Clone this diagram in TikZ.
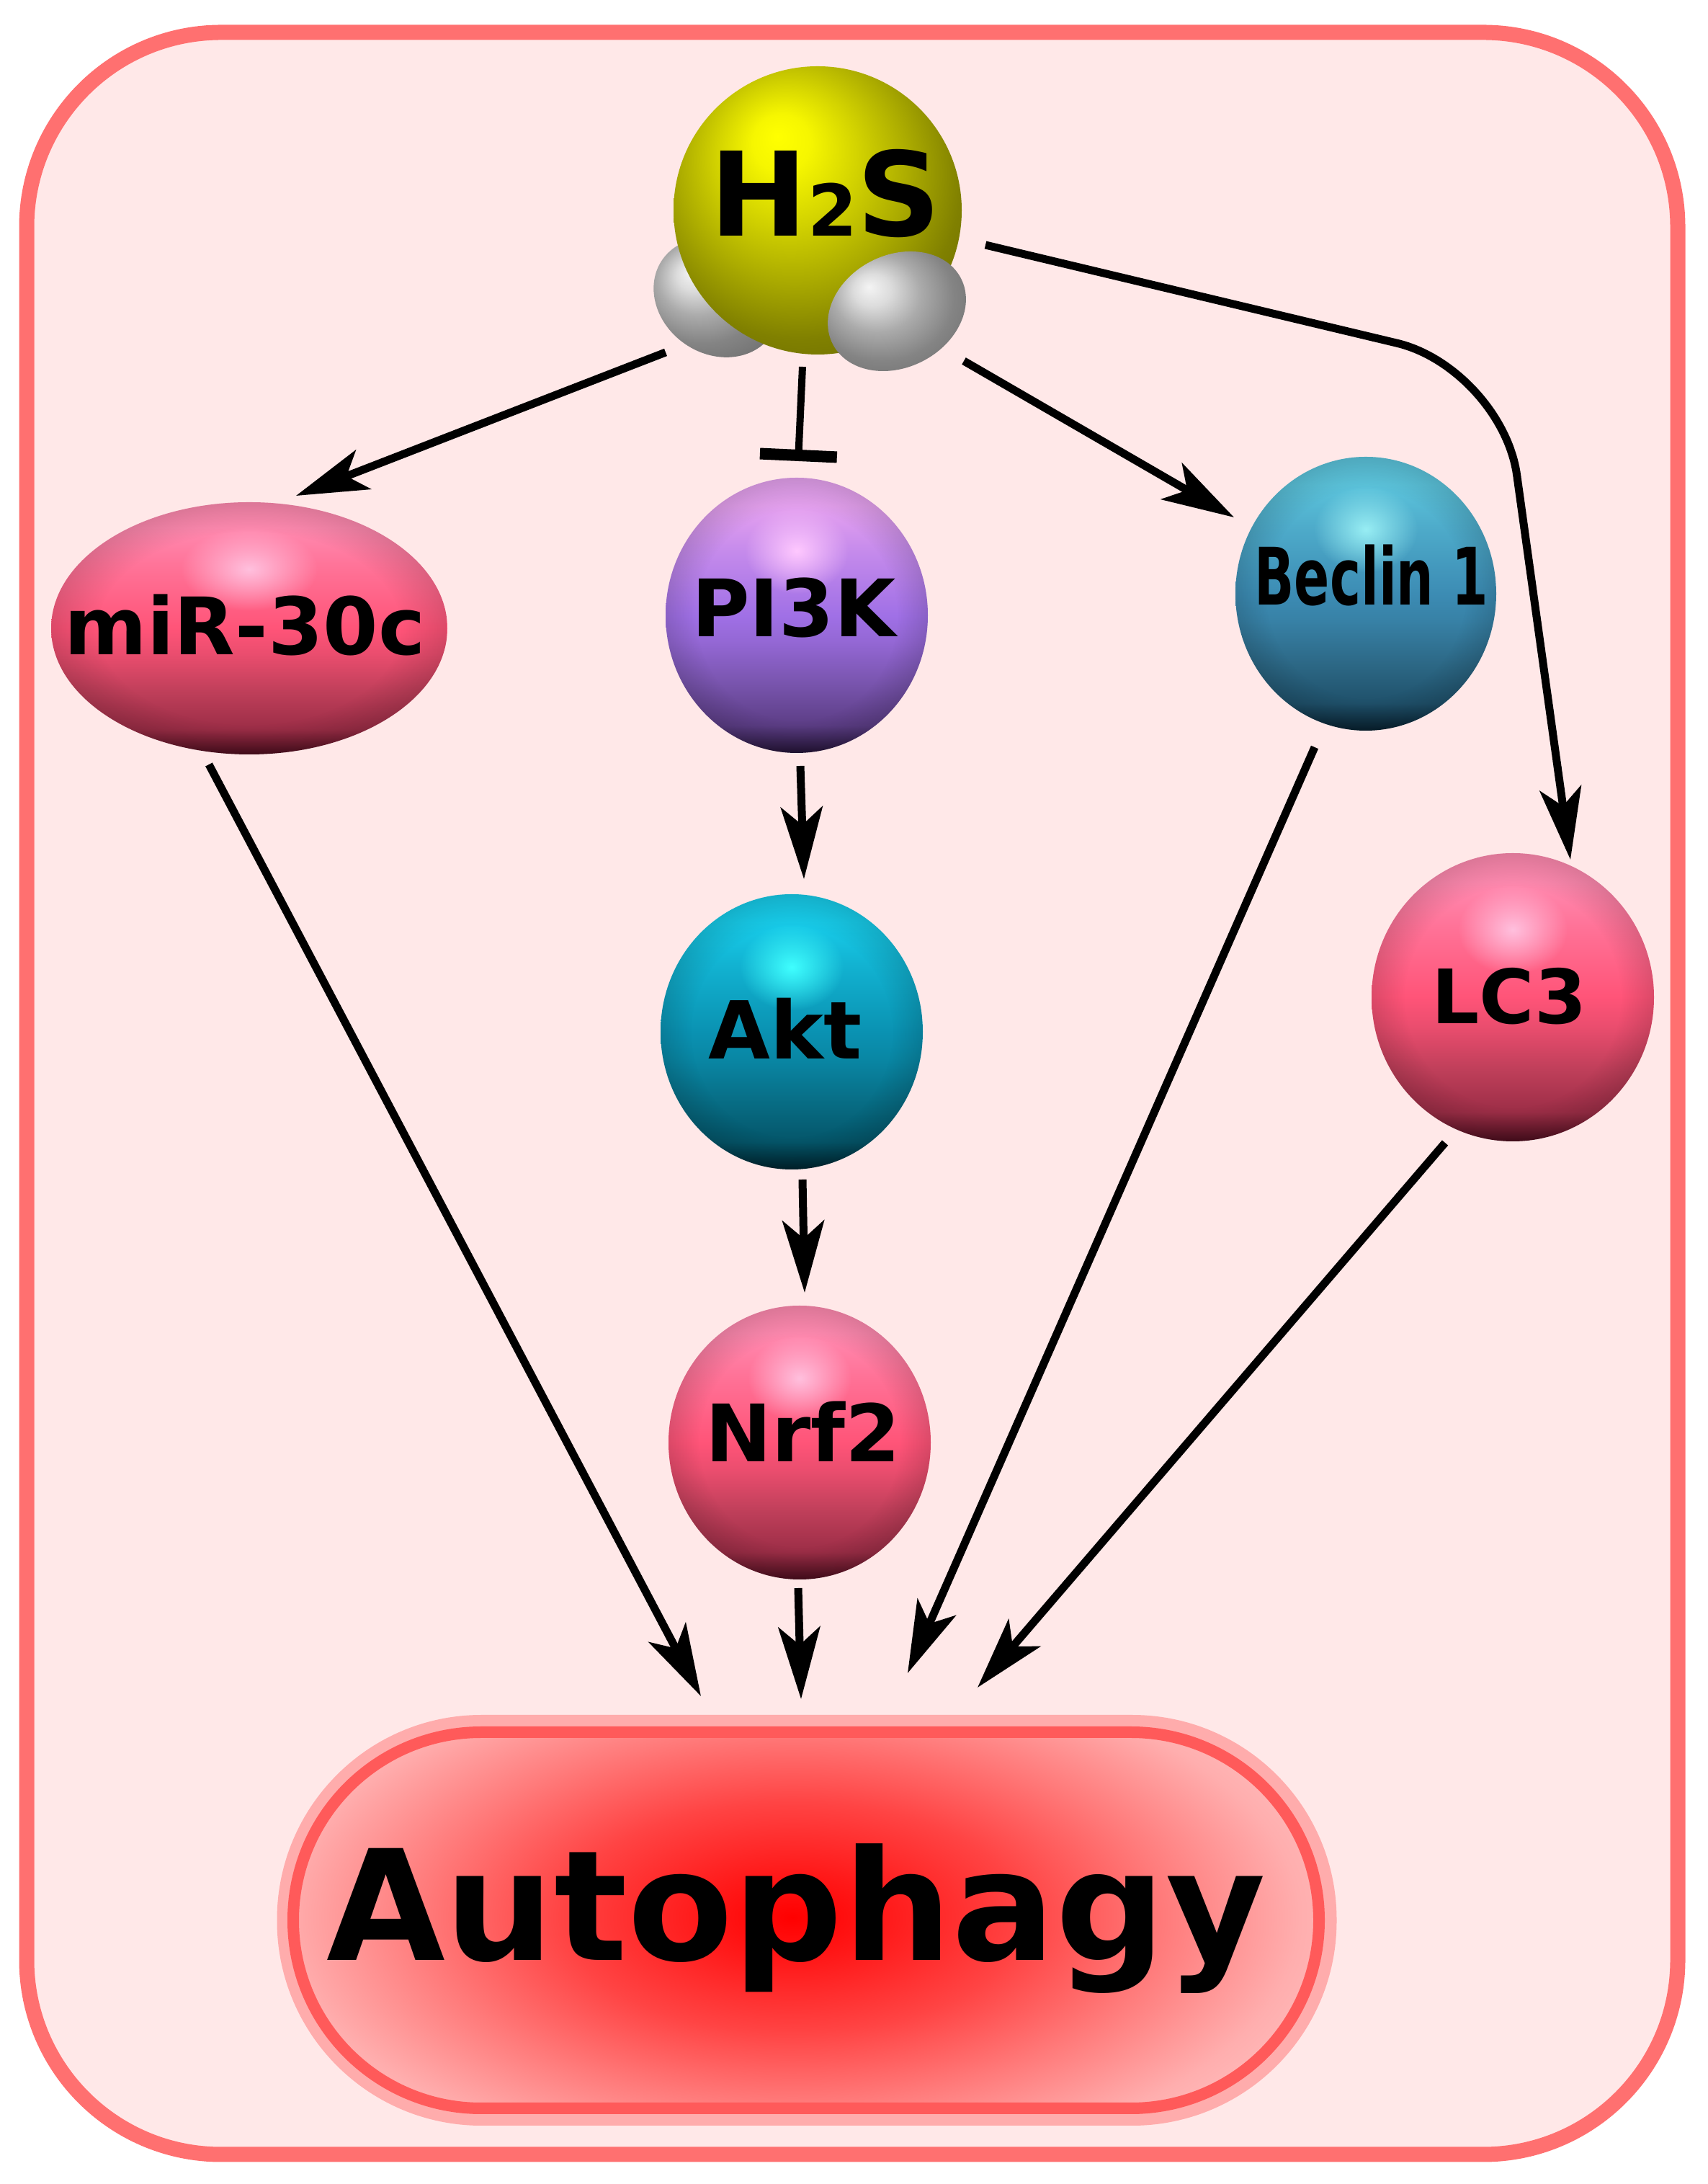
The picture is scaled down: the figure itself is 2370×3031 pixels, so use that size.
\documentclass[tikz,border=0pt]{standalone}
\usepackage{fontspec}
\setmainfont{DejaVu Sans}
\newfontfamily\becfont{DejaVu Sans}[FakeStretch=0.66]
\usetikzlibrary{arrows.meta,calc,fadings,shapes.geometric}

\definecolor{bgpink}{HTML}{FFE8E8}
\definecolor{borderpink}{HTML}{FF7070}
\definecolor{pkhl}{HTML}{FFC0DE}\definecolor{pktop}{HTML}{FF8AB0}\definecolor{pkmid}{HTML}{FF5478}\definecolor{pkdark}{HTML}{4A0E1E}
\definecolor{puhl}{HTML}{FFC8FF}\definecolor{putop}{HTML}{E6A2F0}\definecolor{pumid}{HTML}{A070E6}\definecolor{pudark}{HTML}{241436}
\definecolor{cyhl}{HTML}{40FFFF}\definecolor{cytop}{HTML}{18CCEA}\definecolor{cymid}{HTML}{0A92B2}\definecolor{cydark}{HTML}{00242E}
\definecolor{blhl}{HTML}{98EEF4}\definecolor{bltop}{HTML}{5CC4DC}\definecolor{blmid}{HTML}{3C8CB4}\definecolor{bldark}{HTML}{08202E}
\definecolor{y0}{HTML}{FFFF00}\definecolor{y1}{HTML}{F6F600}\definecolor{y2}{HTML}{D4D400}\definecolor{y3}{HTML}{ABAB00}\definecolor{y4}{HTML}{808000}\definecolor{y5}{HTML}{6A6A00}\definecolor{y6}{HTML}{606000}
\definecolor{g0}{HTML}{F4F4F4}\definecolor{g1}{HTML}{DCDCDC}\definecolor{g2}{HTML}{ABABAB}\definecolor{g3}{HTML}{848484}\definecolor{g4}{HTML}{6C6C6C}
\definecolor{r0}{HTML}{FF0000}\definecolor{r1}{HTML}{FF1A1A}\definecolor{r2}{HTML}{FF4444}\definecolor{r3}{HTML}{FF7A7A}\definecolor{r4}{HTML}{FFAEAE}\definecolor{r5}{HTML}{FFBCBC}\definecolor{r6}{HTML}{FFC4C4}
\definecolor{halo}{HTML}{FFACAC}
\definecolor{ringred}{HTML}{FF5A5A}

\newcommand\defball[4]{%
  \pgfdeclareverticalshading{#1}{100bp}{%
    color(0bp)=(#4); color(25bp)=(#4); color(30bp)=(#4!55!#3);
    color(37.5bp)=(#3!75!black); color(45bp)=(#3!92!black); color(50bp)=(#3);
    color(62bp)=(#3!45!#2); color(70bp)=(#2); color(100bp)=(#2)}}
\defball{pinkball}{pktop}{pkmid}{pkdark}
\defball{purpball}{putop}{pumid}{pudark}
\defball{cyanball}{cytop}{cymid}{cydark}
\defball{blueball}{bltop}{blmid}{bldark}

\pgfdeclareradialshading{yball}{\pgfpoint{-7bp}{13bp}}{%
  color(0bp)=(y0); color(5bp)=(y1); color(12bp)=(y2); color(20bp)=(y3);
  color(28bp)=(y4); color(36bp)=(y5); color(50bp)=(y6)}
\pgfdeclareradialshading{hball}{\pgfpoint{-9bp}{9bp}}{%
  color(0bp)=(g0); color(6bp)=(g1); color(14bp)=(g2); color(23bp)=(g3);
  color(34bp)=(g4); color(50bp)=(g4)}
\pgfdeclareradialshading{autoglow}{\pgfpointorigin}{%
  color(0bp)=(r0); color(4bp)=(r1); color(10bp)=(r2); color(16bp)=(r3);
  color(22bp)=(r4); color(25bp)=(r5); color(50bp)=(r6)}
\pgfdeclareradialshading{rimshade}{\pgfpointorigin}{%
  color(0bp)=(black); color(19bp)=(black); color(25bp)=(black!86!white); color(50bp)=(black!86!white)}
\pgfdeclarefading{rim}{\pgfuseshading{rimshade}}
\tikzfading[name=fuzzy, inner color=transparent!0, outer color=transparent!100]

\tikzset{
  ball/.style n args={4}{ellipse, inner sep=0pt, shade, shading=#1,
    path picture={
      \fill[black, path fading=rim] (path picture bounding box.south west) rectangle (path picture bounding box.north east);
      \fill[#2, path fading=fuzzy] ($(path picture bounding box.center)!0.47!(path picture bounding box.north)$) ellipse [x radius=#3, y radius=#4];
    }},
  hatom/.style={ellipse, inner sep=0pt, shade, shading=hball},
  lab/.style={inner sep=0pt, anchor=base, text=black, font=\fontsize{#1}{#1}\selectfont\bfseries},
  arr/.style={line width=11pt, draw=black, -{Stealth[length=100pt, width=58pt, inset=25pt]}},
  inh/.style={line width=10pt, draw=black, -{Bar[width=107pt, line width=16pt]}},
}

\begin{document}
\begin{tikzpicture}[x=1pt, y=1pt]
\useasboundingbox (0,0) rectangle (2370,3031);
\draw[line width=21pt, draw=borderpink, fill=bgpink, rounded corners=270pt] (37,41) rectangle (2329,2986);

% H2S molecule
\node[hatom, minimum width=184pt, minimum height=156pt, rotate=-35] (hleft) at (995,2618) {};
\node[circle, inner sep=0pt, minimum size=400pt, shade, shading=yball] (h2s) at (1135,2739) {};
\node[hatom, minimum width=200pt, minimum height=156pt, rotate=27] (hright) at (1245,2599) {};
\node[lab=162] (th2s) at (1146,2703) {H{\fontsize{99}{99}\selectfont 2}S};

% balls
\node[ball={pinkball}{pkhl}{95}{58}, minimum width=550pt, minimum height=350pt] (mir) at (346,2159) {};
\node[ball={purpball}{puhl}{72}{60}, minimum width=364pt, minimum height=382pt] (pi3k) at (1106,2177) {};
\node[ball={blueball}{blhl}{72}{60}, minimum width=362pt, minimum height=380pt] (beclin) at (1896,2207) {};
\node[ball={pinkball}{pkhl}{76}{62}, minimum width=392pt, minimum height=400pt] (lc3) at (2100,1647) {};
\node[ball={cyanball}{cyhl}{72}{60}, minimum width=364pt, minimum height=382pt] (akt) at (1099,1599) {};
\node[ball={pinkball}{pkhl}{72}{60}, minimum width=364pt, minimum height=380pt] (nrf2) at (1110,1029) {};

\node[lab=110] (tmir) at (340,2122) {miR-30c};
\node[lab=110] (tpi3k) at (1102,2147) {PI3K};
\node[lab=110] (tbec) at (1904,2191) {\becfont\bfseries Beclin 1};
\node[lab=104] (tlc3) at (2095,1610) {LC3};
\node[lab=111] (takt) at (1090,1561) {Akt};
\node[lab=110] (tnrf2) at (1115,1002) {Nrf2};

% Autophagy
\node[rectangle, inner sep=0pt, minimum width=1471pt, minimum height=570pt, rounded corners=284pt, fill=halo] (auto) at (1120,366) {};
\begin{scope}
  \clip[rounded corners=261pt] ($(auto.center)+(-713,-261)$) rectangle ($(auto.center)+(711,261)$);
  \shade[shading=autoglow] ($(auto.center)+(-20,4)$) ellipse [x radius=800, y radius=400];
\end{scope}
\draw[line width=16pt, draw=ringred, rounded corners=261pt] ($(auto.center)+(-713,-261)$) rectangle ($(auto.center)+(711,261)$);
\node[lab=213] (tauto) at (1105,310) {Autophagy};

% connectors
\draw[arr] ($(h2s)+(-211,-197)$) -- ($(mir)+(65,184)$);
\draw[inh] ($(h2s)+(-21,-217)$) -- ($(pi3k)+(2,214)$);
\draw[arr] ($(h2s)+(203,-209)$) -- ($(beclin)+(-183,106)$);
\coordinate (bend) at (2085,2520);
\draw[arr, rounded corners=150pt] ($(h2s)+(233,-48)$) -- (bend) -- ($(lc3)+(80,191)$);
\draw[arr] ($(pi3k)+(5,-209)$) -- ($(akt)+(17,212)$);
\draw[arr] ($(akt)+(15,-205)$) -- ($(nrf2)+(7,208)$);
\draw[arr] ($(nrf2)+(-2,-202)$) -- ($(auto)+(-8,307)$);
\draw[arr] ($(mir)+(-56,-189)$) -- ($(auto)+(-147,311)$);
\draw[arr] ($(beclin)+(-71,-213)$) -- ($(auto)+(140,343)$);
\draw[arr] ($(lc3)+(-94,-202)$) -- ($(auto)+(237,323)$);
\end{tikzpicture}
\end{document}
